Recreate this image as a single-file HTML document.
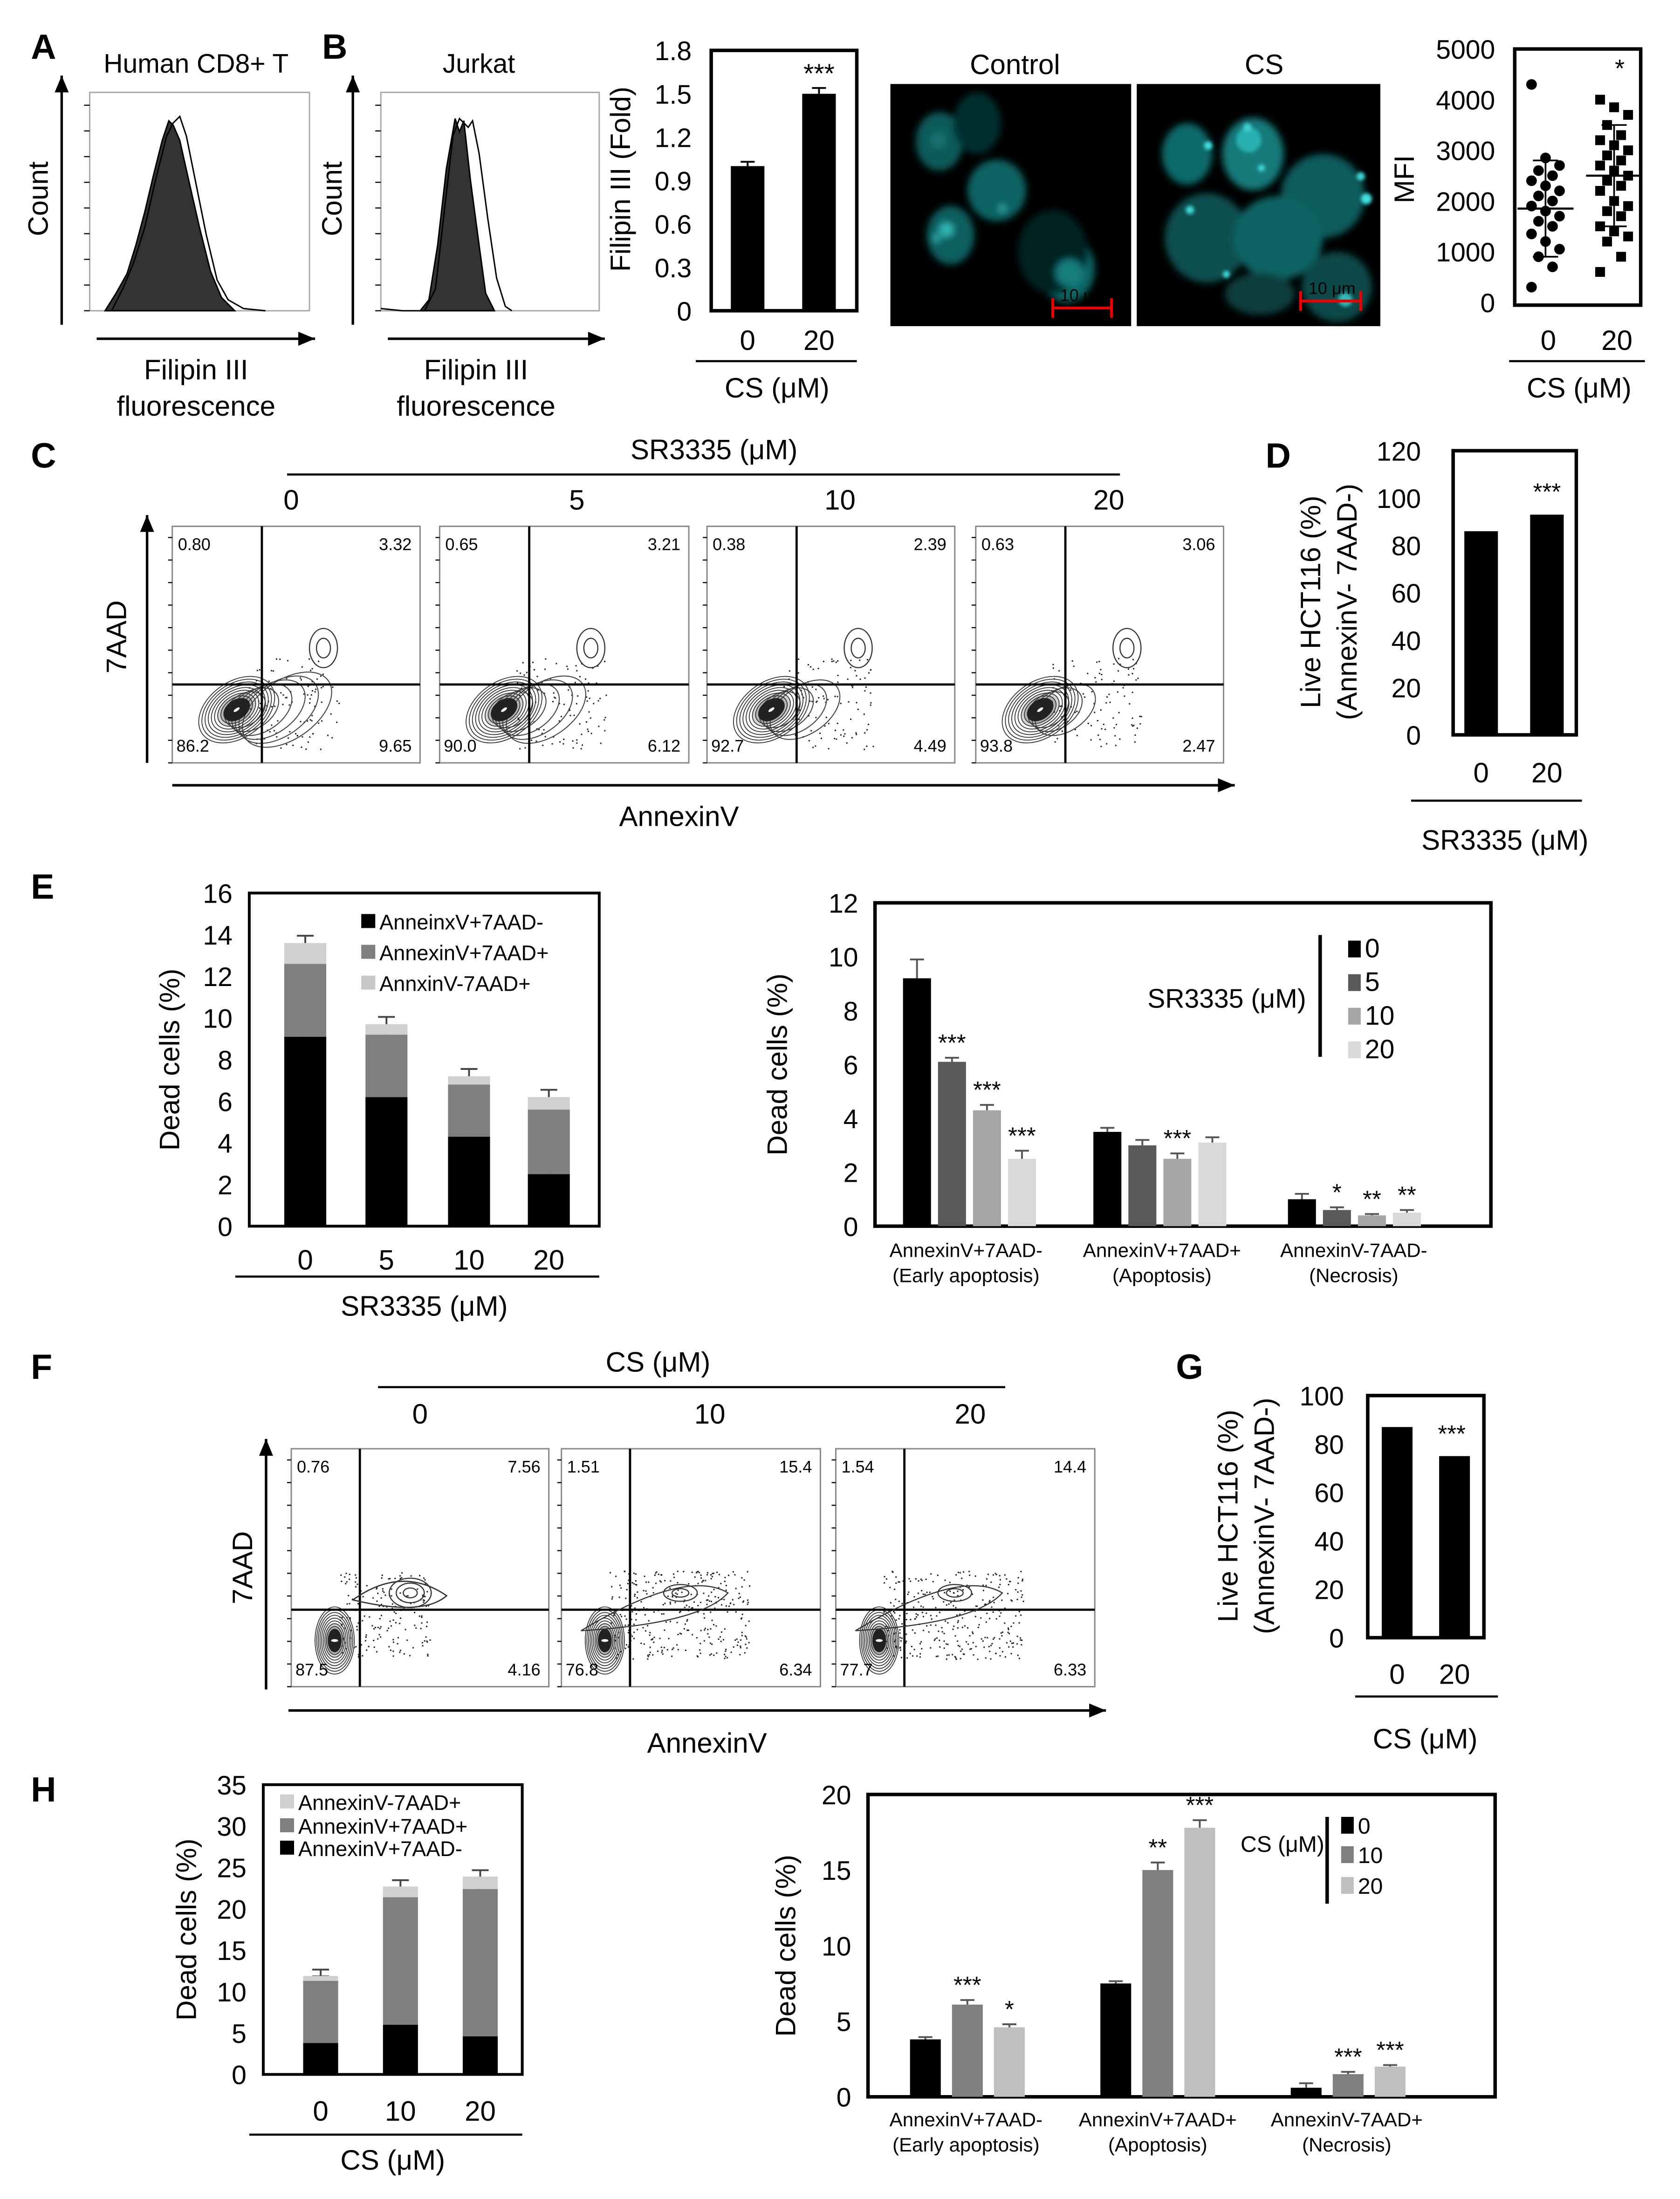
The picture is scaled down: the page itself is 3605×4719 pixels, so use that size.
<!DOCTYPE html>
<html><head><meta charset="utf-8"><style>
html,body{margin:0;padding:0;background:#fff}
svg{display:block}
text{font-family:"Liberation Sans",Arial,sans-serif;fill:#000}
</style></head><body>
<svg id="fig" xmlns="http://www.w3.org/2000/svg" width="3605" height="4719" viewBox="0 0 1200 1571">
<rect x="0" y="0" width="1200" height="1571" fill="#fff"/>
<g font-weight="bold" font-size="25">
<text x="22" y="42">A</text>
<text x="230" y="42">B</text>
<text x="22" y="334">C</text>
<text x="904" y="334">D</text>
<text x="22" y="642">E</text>
<text x="22" y="985">F</text>
<text x="840" y="985">G</text>
<text x="22" y="1287">H</text>
</g>
<g id="layer"></g>
</svg>
<script>
const NS='http://www.w3.org/2000/svg';
const layer=document.getElementById('layer');
function el(tag,a,p){const e=document.createElementNS(NS,tag);for(const k in a)e.setAttribute(k,a[k]);(p||layer).appendChild(e);return e;}
function T(x,y,s,fs,anc,rot,fill){const e=el('text',{x:x,y:y,'font-size':fs||19,'text-anchor':anc||'middle'});if(rot)e.setAttribute('transform','rotate(-90 '+x+' '+y+')');if(fill)e.setAttribute('fill',fill);e.textContent=s;return e;}

/* ---------- data arrays ---------- */
const bCats=['0','20'];const bVals=[1.0,1.5];const bErr=[0.03,0.04];const bTicks=[0,0.3,0.6,0.9,1.2,1.5,1.8];
const mfi0=[4300,2850,2700,2600,2500,2400,2300,2200,2100,2000,1900,1800,1700,1600,1500,1350,1200,1050,900,700,300];
const mfi20=[4000,3850,3700,3500,3300,3200,3100,3000,2900,2800,2700,2600,2500,2400,2300,2200,2000,1900,1800,1700,1500,1400,1300,1200,900,600];
const mfiMean=[1850,2500];const mfiSD=[950,1000];const mfiTicks=[0,1000,2000,3000,4000,5000];
const cDoses=['0','5','10','20'];
const cUL=['0.80','0.65','0.38','0.63'];const cUR=['3.32','3.21','2.39','3.06'];
const cLL=['86.2','90.0','92.7','93.8'];const cLR=['9.65','6.12','4.49','2.47'];
const dCats=['0','20'];const dVals=[86,93];const dTicks=[0,20,40,60,80,100,120];
const eCats=['0','5','10','20'];
const eEarly=[9.1,6.2,4.3,2.5];const eApop=[3.5,3.0,2.5,3.1];const eNec=[1.0,0.5,0.4,0.6];
const eTicks=[0,2,4,6,8,10,12,14,16];
const egVals=[[9.2,6.1,4.3,2.5],[3.5,3.0,2.5,3.1],[1.0,0.6,0.4,0.5]];
const egErr=[[0.7,0.15,0.2,0.3],[0.15,0.2,0.2,0.2],[0.2,0.1,0.05,0.1]];
const egStars=[['','***','***','***'],['','','***',''],['','*','**','**']];
const egTicks=[0,2,4,6,8,10,12];
const fDoses=['0','10','20'];
const fUL=['0.76','1.51','1.54'];const fUR=['7.56','15.4','14.4'];const fLL=['87.5','76.8','77.7'];const fLR=['4.16','6.34','6.33'];
const gCats=['0','20'];const gVals=[87,75];const gTicks=[0,20,40,60,80,100];
const hCats=['0','10','20'];
const hEarly=[3.8,6.0,4.6];const hApop=[7.5,15.4,17.8];const hNec=[0.6,1.3,1.5];const hTicks=[0,5,10,15,20,25,30,35];
const hgVals=[[3.8,6.1,4.6],[7.5,15.0,17.8],[0.6,1.5,2.0]];
const hgErr=[[0.15,0.3,0.2],[0.15,0.5,0.5],[0.3,0.15,0.1]];
const hgStars=[['','***','*'],['','**','***'],['','***','***']];
const hgTicks=[0,5,10,15,20];

const grays4=['#000','#595959','#a6a6a6','#d9d9d9'];
const grays3=['#000','#7f7f7f','#bfbfbf'];
let t;
function yScale(y0,y1,max){return v=>y0-(v/max)*(y0-y1);}
function yTicks(x,ys,ticks,fs){ticks.forEach(tk=>{const e=T(x,ys(tk)+7,String(tk),fs||19,'end');});}
function box(x0,y0,x1,y1,w,col){const r=el('rect',{x:x0,y:y0,width:x1-x0,height:y1-y0,fill:'none',stroke:col||'#000','stroke-width':w||2.5});return r;}
function errbar(x,yTop,yErr,cap,col){el('line',{x1:x,y1:yTop,x2:x,y2:yErr,stroke:col||'#555','stroke-width':1.3});el('line',{x1:x-cap,y1:yErr,x2:x+cap,y2:yErr,stroke:col||'#555','stroke-width':1.3});}
function line(x1,y1,x2,y2,w){return el('line',{x1:x1,y1:y1,x2:x2,y2:y2,stroke:'#000','stroke-width':w||1.5});}
function arrow(x1,y1,x2,y2){line(x1,y1,x2,y2,1.8);const dx=x2-x1,dy=y2-y1,L=Math.hypot(dx,dy),ux=dx/L,uy=dy/L;el('path',{d:`M${x2},${y2} L${x2-ux*12-uy*5},${y2-uy*12+ux*5} L${x2-ux*12+uy*5},${y2-uy*12-ux*5}Z`,fill:'#000'});}

/* ---------- A & B histograms ---------- */
function hist(x0,y0,x1,y1,fillPts,openPts){
  box(x0,y0,x1,y1,1,'#aaa');
  arrow(x0-20,y1+10,x0-20,y0-12);arrow(x0+5,y1+20,x1+4,y1+20);
  const w=x1-x0,h=y1-y0;
  for(let i=0;i<=8;i++)line(x0-4,y1-i*h/8.5,x0,y1-i*h/8.5,0.8);
  const f=el('path',{d:'M'+fillPts.map(p=>(x0+p[0]*w)+','+(y1-p[1]*h)).join(' L')+'Z',fill:'#333',stroke:'#000','stroke-width':1});
  const o=el('path',{d:'M'+openPts.map(p=>(x0+p[0]*w)+','+(y1-p[1]*h)).join(' L'),fill:'none',stroke:'#000','stroke-width':1});
}
hist(64,66,221,222,
 [[0.07,0],[0.12,0.08],[0.17,0.17],[0.21,0.3],[0.25,0.45],[0.29,0.62],[0.33,0.78],[0.36,0.87],[0.38,0.85],[0.41,0.78],[0.45,0.6],[0.5,0.38],[0.55,0.18],[0.6,0.06],[0.66,0]],
 [[0.1,0],[0.15,0.1],[0.2,0.22],[0.25,0.38],[0.3,0.6],[0.35,0.8],[0.38,0.86],[0.41,0.89],[0.44,0.8],[0.48,0.6],[0.53,0.35],[0.58,0.14],[0.63,0.05],[0.7,0.01],[0.8,0]]);
hist(272,66,428,222,
 [[0.18,0],[0.22,0.05],[0.26,0.3],[0.3,0.65],[0.34,0.88],[0.36,0.82],[0.38,0.87],[0.41,0.6],[0.45,0.3],[0.48,0.08],[0.52,0]],
 [[0.0,0.01],[0.1,0],[0.2,0],[0.25,0.1],[0.29,0.45],[0.33,0.8],[0.36,0.88],[0.4,0.84],[0.42,0.87],[0.45,0.72],[0.49,0.42],[0.53,0.15],[0.57,0.02],[0.6,0]]);
t=T(140,52,'Human  CD8+ T',19);
t=T(342,52,'Jurkat',19);
t=T(34,142,'Count',20,'middle',true);
t=T(244,142,'Count',20,'middle',true);
[140,340].forEach(x=>{t=T(x,271,'Filipin III',20);t=T(x,297,'fluorescence',20);});

/* ---------- B bar ---------- */
{const ys=yScale(222,36,1.8);box(508,36,612,222);yTicks(494,ys,bTicks);const xs=[534,585];
bVals.forEach((v,i)=>{const r=el('rect',{x:xs[i]-12,y:ys(v),width:24,height:222-ys(v),fill:'#000'});errbar(xs[i],ys(v),ys(v+bErr[i]),5,'#000');t=T(xs[i],250,bCats[i],20);});
t=T(585,59,'***',19);
line(497,258,612,258);t=T(555,284,'CS (μM)',20);
t=T(450,128,'Filipin III (Fold)',20,'middle',true);}

/* ---------- microscopy ---------- */
{const defs=el('defs',{});const fl=el('filter',{id:'blur',x:'-50%',y:'-50%',width:'200%',height:'200%'},defs);el('feGaussianBlur',{stdDeviation:2.5},fl);
const fl2=el('filter',{id:'blur2',x:'-50%',y:'-50%',width:'200%',height:'200%'},defs);el('feGaussianBlur',{stdDeviation:1.2},fl2);
const c1=el('rect',{x:636,y:60,width:172,height:173,fill:'#000'});
const c2=el('rect',{x:812,y:60,width:174,height:173,fill:'#000'});
const g1=el('g',{filter:'url(#blur)'});
[[671,101,17,21,'#0d5a5a'],[698,88,17,22,'#062f2f'],[712,136,21,22,'#0e6363'],[679,168,17,21,'#0e5f5f'],[762,192,20,24,'#0f6666'],[752,180,25,30,'#042424']].forEach(c=>el('ellipse',{cx:c[0],cy:c[1],rx:c[2],ry:c[3],fill:c[4]},g1));
[[676,164,5,'#30b8b8'],[669,170,3,'#2aa8a8'],[764,195,10,'#167d7d'],[716,149,2,'#40c8c8'],[670,100,6,'#137070']].forEach(c=>el('circle',{cx:c[0],cy:c[1],r:c[2],fill:c[3]},g1));
const g2=el('g',{filter:'url(#blur)'});
[[848,110,18,22,'#0e6a6a'],[895,110,22,26,'#137a7a'],[945,140,30,30,'#0c5c5c'],[862,170,30,32,'#0a5050'],[913,170,32,30,'#0e6363'],[955,205,25,25,'#094a4a'],[900,210,25,15,'#073d3d']].forEach(c=>el('ellipse',{cx:c[0],cy:c[1],rx:c[2],ry:c[3],fill:c[4]},g2));
const g3=el('g',{filter:'url(#blur2)'});
[[892,100,9,'#28b0b0'],[863,104,3,'#44e0e0'],[891,91,3,'#40d0d0'],[972,126,3,'#40dada'],[976,142,4,'#40e0e0'],[850,150,3,'#40d8d8'],[901,120,2.5,'#40d8d8'],[961,214,5,'#30b8b8'],[876,196,2.5,'#40e0e0']].forEach(c=>el('circle',{cx:c[0],cy:c[1],r:c[2],fill:c[3]},g3));
t=T(725,53,'Control',20);
t=T(903,53,'CS',20);
[[752,794,220],[929,972,215]].forEach(s=>{el('line',{x1:s[0],y1:s[2],x2:s[1],y2:s[2],stroke:'#e00','stroke-width':2});el('line',{x1:s[0],y1:s[2]-7,x2:s[0],y2:s[2]+7,stroke:'#e00','stroke-width':2});el('line',{x1:s[1],y1:s[2]-7,x2:s[1],y2:s[2]+7,stroke:'#e00','stroke-width':2});t=T((s[0]+s[1])/2+1,s[2]-5,'10 μm',12,'middle',false,'#e00');});}

/* ---------- MFI scatter ---------- */
{const ys=yScale(216,35,5000);box(1082,35,1172,218);yTicks(1068,ys,mfiTicks);const xs=[1104,1153];
[mfi0,mfi20].forEach((arr,g)=>{arr.forEach((v,i)=>{const dx=((i*7)%5-2)*5;let m;if(g===0){m=el('circle',{cx:xs[g]+dx,cy:ys(v),r:3.8,fill:'#000'});}else{m=el('rect',{x:xs[g]+dx-3.5,y:ys(v)-3.5,width:7,height:7,fill:'#000'});}});
line(xs[g]-20,ys(mfiMean[g]),xs[g]+20,ys(mfiMean[g]),1.5);line(xs[g],ys(mfiMean[g]-mfiSD[g]),xs[g],ys(mfiMean[g]+mfiSD[g]),1.2);line(xs[g]-9,ys(mfiMean[g]-mfiSD[g]),xs[g]+9,ys(mfiMean[g]-mfiSD[g]),1.2);line(xs[g]-9,ys(mfiMean[g]+mfiSD[g]),xs[g]+9,ys(mfiMean[g]+mfiSD[g]),1.2);
t=T(xs[g]+2,250,['0','20'][g],20);});
t=T(1157,55,'*',18);
line(1078,258,1175,258);t=T(1128,284,'CS (μM)',20);
t=T(1010,128,'MFI',20,'middle',true);}

/* ---------- flow plots ---------- */
let seed=12345;function rnd(){seed=(seed*1103515245+12345)%2147483648;return seed/2147483648;}
function flow(o){
  const r=el('rect',{x:o.x0,y:o.y0,width:o.x1-o.x0,height:o.y1-o.y0,fill:'#fff',stroke:'#888','stroke-width':1});
  for(let i=0;i<=10;i++)line(o.x0-3,o.y0+8+i*(o.y1-o.y0-8)/10,o.x0,o.y0+8+i*(o.y1-o.y0-8)/10,0.8);
  // scatter dots
  for(let i=0;i<o.nd;i++){const px=o.dx0+rnd()*(o.dx1-o.dx0),py=o.dy0+rnd()*(o.dy1-o.dy0);el('rect',{x:px,y:py,width:1,height:1,fill:'#222'});}
  // tail contours
  const [mx,my]=o.main;
  for(let k=1;k<=o.tail;k++)el('ellipse',{cx:mx+k*o.tailStep,cy:my+k*o.tailDy,rx:12+k*o.tailR,ry:9+k*o.tailR*0.5,fill:'none',stroke:'#444','stroke-width':0.7,transform:`rotate(${o.rot} ${mx+k*o.tailStep} ${my+k*o.tailDy})`});
  // dense main blob
  for(let k=12;k>=1;k--)el('ellipse',{cx:mx,cy:my,rx:k*o.mrx/12,ry:k*o.mry/12,fill:k<7?'#555':'none','fill-opacity':0.25,stroke:'#333','stroke-width':0.6,transform:`rotate(${o.rot} ${mx} ${my})`});
  el('ellipse',{cx:mx,cy:my,rx:o.mrx*0.35,ry:o.mry*0.35,fill:'#222',transform:`rotate(${o.rot} ${mx} ${my})`});
  el('ellipse',{cx:mx,cy:my,rx:2.5,ry:1,fill:'#fff',transform:`rotate(${o.rot} ${mx} ${my})`});
  // side population
  for(let k=1;k<=o.sideN;k++)el('ellipse',{cx:o.side[0],cy:o.side[1],rx:k*o.sideRx,ry:k*o.sideRy,fill:'none',stroke:'#333','stroke-width':0.8});
  line(o.vx,o.y0,o.vx,o.y1,1.6);line(o.x0,o.hy,o.x1,o.hy,1.6);
  [[o.x0+4,o.y0+17,o.ul,'start'],[o.x1-6,o.y0+17,o.ur,'end'],[o.x0+3,o.y1-8,o.ll,'start'],[o.x1-6,o.y1-8,o.lr,'end']].forEach(q=>{t=T(q[0],q[1],q[2],12,q[3]);});
}
{const xs=[[123,300],[314,492],[505,682],[697,874]];
xs.forEach((p,i)=>{const vx=p[0]+64;flow({x0:p[0],y0:376,x1:p[1],y1:545,vx:vx,hy:489,ul:cUL[i],ur:cUR[i],ll:cLL[i],lr:cLR[i],
  main:[vx-18,507],mrx:30,mry:20,rot:-35,tail:6-i,tailStep:6,tailDy:0,tailR:4,side:[vx+44,463],sideN:2,sideRx:5,sideRy:7,
  nd:100,dx0:vx-10,dx1:vx+55,dy0:470,dy1:535});
  t=T([208,412,600,792][i],364,cDoses[i],20);});
line(205,339,800,339);t=T(510,328,'SR3335 (μM)',20);
arrow(105,545,105,368);arrow(123,561,882,561);
t=T(90,455,'7AAD',20,'middle',true);
t=T(485,590,'AnnexinV',20);}

/* ---------- D ---------- */
{const ys=yScale(525,322,120);box(1038,322,1126,525);yTicks(1015,ys,dTicks);const xs=[1058,1105];
dVals.forEach((v,i)=>{const r=el('rect',{x:xs[i]-12,y:ys(v),width:24,height:525-ys(v),fill:'#000'});t=T(xs[i],559,dCats[i],20);});
t=T(1105,357,'***',17);
line(1008,572,1130,572);t=T(1075,607,'SR3335 (μM)',20);
t=T(943,430,'Live HCT116 (%)',20,'middle',true);
t=T(969,430,'(AnnexinV- 7AAD-)',20,'middle',true);}

/* ---------- stacked ---------- */
function stacked(x0,y0,x1,y1,max,ticks,cats,s1,s2,s3,xs,bw,legend,legY,legX,xlY,lineY,title,titleY,ylabX){
  const ys=yScale(y1,y0,max);box(x0,y0,x1,y1,2);yTicks(x0-12,ys,ticks);
  cats.forEach((c,i)=>{let base=0;[[s1[i],'#000'],[s2[i],'#7f7f7f'],[s3[i],'#d0d0d0']].forEach((s,k)=>{const r=el('rect',{x:xs[i]-bw/2,y:ys(base+s[0]),width:bw,height:ys(base)-ys(base+s[0]),fill:s[1]});base+=s[0];errbar(xs[i],ys(base),ys(base+(k===1?0.25:0.35)*(max/16)),6,'#444');});
  t=T(xs[i],xlY,c,20);});
  legend.forEach((L,k)=>{const r=el('rect',{x:legX,y:legY[k]-11,width:10,height:10,fill:L[1]});t=T(legX+13,legY[k],L[0],15,'start');});
  line(x0-10,lineY,x1,lineY);t=T((x0+x1)/2,titleY,title,20);
  t=T(ylabX,(y0+y1)/2,'Dead cells (%)',20,'middle',true);
}
stacked(178,638,428,876,16,eTicks,eCats,eEarly,eApop,eNec,[218,276,335,392],30,[['AnneinxV+7AAD-','#000'],['AnnexinV+7AAD+','#7f7f7f'],['AnnxinV-7AAD+','#c8c8c8']],[664,686,708],258,907,912,'SR3335 (μM)',940,128);
stacked(188,1275,373,1482,35,hTicks,hCats,hEarly,hApop,hNec,[229,286,343],25,[['AnnexinV-7AAD+','#d0d0d0'],['AnnexinV+7AAD+','#7f7f7f'],['AnnexinV+7AAD-','#000']],[1293,1310,1326],200,1515,1525,'CS (μM)',1550,140);

/* ---------- grouped ---------- */
function grouped(x0,y0,x1,y1,max,ticks,vals,errs,stars,starts,bw,gap,cols,legLabels,legX,legY,legLine,legTitle,xlabs,xlabX,xlY,ylabX){
  const ys=yScale(y1,y0,max);box(x0,y0,x1,y1,2.5);yTicks(x0-12,ys,ticks);
  vals.forEach((g,gi)=>{g.forEach((v,k)=>{const x=starts[gi]+k*(bw+gap);const r=el('rect',{x:x,y:ys(v),width:bw,height:y1-ys(v),fill:cols[k]});const ye=ys(v+errs[gi][k]);errbar(x+bw/2,ys(v),ye,5,'#555');if(stars[gi][k]){t=T(x+bw/2,ye-5,stars[gi][k],17);}});});
  line(legLine[0],legLine[1],legLine[0],legLine[2],2.5);
  legLabels.forEach((L,k)=>{const r=el('rect',{x:legX,y:legY[k]-12,width:9,height:12,fill:cols[k]});t=T(legX+12,legY[k],L,legTitle[2],'start',false,k===0?'#000':'#444');});
  t=T(legTitle[0],legTitle[1],legTitle[3],legTitle[2],'end');
  xlabs.forEach((L,i)=>{t=T(xlabX[i],xlY,L[0],14);t=T(xlabX[i],xlY+18,L[1],14);});
  t=T(ylabX,(y0+y1)/2,'Dead cells (%)',20,'middle',true);
}
grouped(625,645,1065,876,12,egTicks,egVals,egErr,egStars,[645,781,920],20,5,grays4,['0','5','10','20'],963,[684,708,732,756],[943,668,755],[933,720,19,'SR3335 (μM)'],[['AnnexinV+7AAD-','(Early apoptosis)'],['AnnexinV+7AAD+','(Apoptosis)'],['AnnexinV-7AAD-','(Necrosis)']],[690,830,967],898,562);
grouped(620,1282,1068,1498,20,hgTicks,hgVals,hgErr,hgStars,[650,786,922],22,8,grays3,['0','10','20'],958,[1310,1331,1353],[948,1298,1360],[946,1323,16,'CS (μM)'],[['AnnexinV+7AAD-','(Early apoptosis)'],['AnnexinV+7AAD+','(Apoptosis)'],['AnnexinV-7AAD+','(Necrosis)']],[690,827,962],1519,568);

/* ---------- F ---------- */
{const xs=[[208,392],[401,586],[597,782]];
xs.forEach((p,i)=>{const vx=p[0]+49;flow({x0:p[0],y0:1035,x1:p[1],y1:1205,vx:vx,hy:1150,ul:fUL[i],ur:fUR[i],ll:fLL[i],lr:fLR[i],
  main:[vx-18,1172],mrx:14,mry:24,rot:0,tail:0,tailStep:0,tailDy:0,tailR:0,side:[vx+36,1138],sideN:i===0?3:2,sideRx:i===0?5:6,sideRy:i===0?3.5:3,
  nd:i===0?180:320,dx0:vx-15,dx1:vx+(i===0?50:85),dy0:1122,dy1:1185});
  if(i===0){el('path',{d:`M${vx-5},1143 Q${vx+30},1118 ${vx+62},1140 Q${vx+45},1155 ${vx-5},1143Z`,fill:'none',stroke:'#333','stroke-width':0.9});}
  else{el('path',{d:`M${vx-35},1165 Q${vx+40},1120 ${vx+70},1138 Q${vx+50},1160 ${vx-35},1165Z`,fill:'none',stroke:'#333','stroke-width':0.8});}
  t=T([300,507,693][i],1017,fDoses[i],20);});
line(270,991,718,991);t=T(470,980,'CS (μM)',20);
arrow(190,1207,190,1028);arrow(206,1222,790,1222);
t=T(180,1120,'7AAD',20,'middle',true);
t=T(505,1252,'AnnexinV',20);}

/* ---------- G ---------- */
{const ys=yScale(1170,997,100);box(977,997,1060,1170);yTicks(960,ys,gTicks);const xs=[998,1039];
gVals.forEach((v,i)=>{const r=el('rect',{x:xs[i]-11,y:ys(v),width:22,height:1170-ys(v),fill:'#000'});t=T(xs[i],1203,gCats[i],20);});
t=T(1037,1030,'***',17);
line(968,1212,1070,1212);t=T(1018,1249,'CS (μM)',20);
t=T(884,1083,'Live HCT116 (%)',20,'middle',true);
t=T(910,1083,'(AnnexinV- 7AAD-)',20,'middle',true);}
</script>
</body></html>
